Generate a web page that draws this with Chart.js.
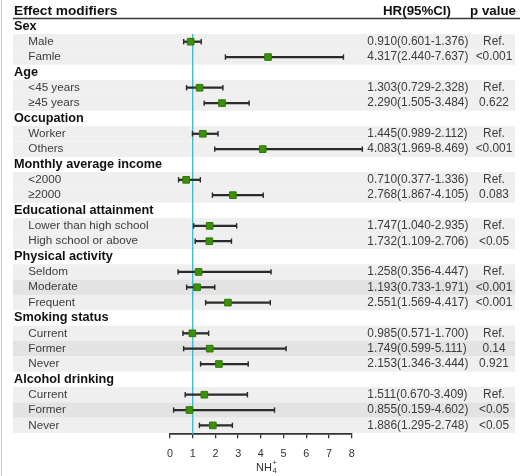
<!DOCTYPE html>
<html>
<head>
<meta charset="utf-8">
<script src="https://cdn.jsdelivr.net/npm/chart.js@4/dist/chart.umd.min.js"></script>
<style>
  html, body { margin: 0; padding: 0; background: #ffffff; }
  canvas { display: block; }
</style>
</head>
<body>
<canvas id="forest" width="520" height="476"></canvas>
<script>
// ---- data ----
const groups = ['Sex', 'Age', 'Occupation', 'Monthly average income',
  'Educational attainment', 'Physical activity', 'Smoking status', 'Alcohol drinking'];
const subgroups = [
  ['Male', 'Famle'],
  ['<45 years', '≥45 years'],
  ['Worker', 'Others'],
  ['<2000', '≥2000'],
  ['Lower than high school', 'High school or above'],
  ['Seldom', 'Moderate', 'Frequent'],
  ['Current', 'Former', 'Never'],
  ['Current', 'Former', 'Never']
];
const hr    = [0.910, 4.317, 1.303, 2.290, 1.445, 4.083, 0.710, 2.768, 1.747, 1.732,
               1.258, 1.193, 2.551, 0.985, 1.749, 2.153, 1.511, 0.855, 1.886];
const lower = [0.601, 2.440, 0.729, 1.505, 0.989, 1.969, 0.377, 1.867, 1.040, 1.109,
               0.356, 0.733, 1.569, 0.571, 0.599, 1.346, 0.670, 0.159, 1.295];
const upper = [1.376, 7.637, 2.328, 3.484, 2.112, 8.469, 1.336, 4.105, 2.935, 2.706,
               4.447, 1.971, 4.417, 1.700, 5.111, 3.444, 3.409, 4.602, 2.748];
const pValues = ['Ref.', '<0.001', 'Ref.', '0.622', 'Ref.', '<0.001', 'Ref.', '0.083',
                 'Ref.', '<0.05', 'Ref.', '<0.001', '<0.001', 'Ref.', '0.14', '0.921',
                 'Ref.', '<0.05', '<0.05'];
const xTicks = [0, 1, 2, 3, 4, 5, 6, 7, 8];
const refValue = 1;

// ---- row layout: row 0 is the column header, then group / item rows ----
const rows = [];
(function () {
  let r = 1, k = 0;
  groups.forEach((g, gi) => {
    rows.push({ kind: 'group', text: g, row: r++ });
    const subs = subgroups[gi];
    subs.forEach((s, si) => {
      rows.push({ kind: 'item', text: s, row: r++, i: k++, mid: subs.length > 2 && si === 1 });
    });
  });
})();
const items = rows.filter(d => d.kind === 'item');
const lastRow = rows[rows.length - 1].row;
const yMax = lastRow + 0.58;

const FONT = "'Liberation Sans', Arial, Helvetica, sans-serif";
Chart.defaults.font.family = FONT;

const fmt = v => v.toFixed(3);

// row bands, header rule and left frame line
const backdrop = {
  id: 'backdrop',
  beforeDraw(chart) {
    const ctx = chart.ctx, y = chart.scales.y;
    const h = y.getPixelForValue(1) - y.getPixelForValue(0);
    ctx.save();
    ctx.fillStyle = '#c9c9c9';
    ctx.fillRect(1, 0, 1, chart.height);
    items.forEach(d => {
      ctx.fillStyle = d.mid ? '#e3e3e3' : '#efefef';
      const yc = y.getPixelForValue(d.row);
      ctx.fillRect(13, yc - h / 2, 502, h);
    });
    ctx.strokeStyle = '#3a3a3a';
    ctx.lineWidth = 1.6;
    ctx.beginPath();
    ctx.moveTo(13, 18.5);
    ctx.lineTo(520, 18.5);
    ctx.stroke();
    ctx.restore();
  }
};

// end caps of the confidence intervals
const ciCaps = {
  id: 'ciCaps',
  afterDatasetsDraw(chart) {
    const ctx = chart.ctx, x = chart.scales.x, y = chart.scales.y;
    ctx.save();
    ctx.strokeStyle = '#2b2b2b';
    ctx.lineWidth = 1.4;
    items.forEach(d => {
      const yc = y.getPixelForValue(d.row);
      [lower[d.i], upper[d.i]].forEach(v => {
        const px = x.getPixelForValue(v);
        ctx.beginPath();
        ctx.moveTo(px, yc - 2.7);
        ctx.lineTo(px, yc + 2.7);
        ctx.stroke();
      });
    });
    ctx.restore();
  }
};

// table text: labels, HR (95% CI), p values, axis title
const tableText = {
  id: 'tableText',
  afterDraw(chart) {
    const ctx = chart.ctx, y = chart.scales.y;
    ctx.save();
    ctx.textBaseline = 'middle';
    const y0 = y.getPixelForValue(0);

    ctx.fillStyle = '#111111';
    ctx.font = 'bold 13.7px ' + FONT;
    ctx.textAlign = 'left';
    ctx.fillText('Effect modifiers', 14, y0);
    ctx.font = 'bold 13.3px ' + FONT;
    ctx.textAlign = 'center';
    ctx.fillText('HR(95%CI)', 417, y0);
    ctx.fillText('p value', 493, y0);

    rows.forEach(d => {
      const yc = y.getPixelForValue(d.row);
      if (d.kind === 'group') {
        ctx.fillStyle = '#111111';
        ctx.font = 'bold 12.7px ' + FONT;
        ctx.textAlign = 'left';
        ctx.fillText(d.text, 14, yc);
      } else {
        ctx.fillStyle = '#3c3c3c';
        ctx.font = '11.7px ' + FONT;
        ctx.textAlign = 'left';
        ctx.fillText(d.text, 28.3, yc);
        ctx.font = '11.9px ' + FONT;
        ctx.fillText(fmt(hr[d.i]) + '(' + fmt(lower[d.i]) + '-' + fmt(upper[d.i]) + ')', 367.3, yc);
        ctx.textAlign = 'center';
        ctx.fillText(pValues[d.i], 494, yc);
      }
    });

    // axis title NH4+
    ctx.fillStyle = '#333333';
    ctx.textAlign = 'left';
    ctx.font = '11px ' + FONT;
    const base = 'NH';
    const wBase = ctx.measureText(base).width;
    const startX = 256;
    const ty = 467.5;
    ctx.fillText(base, startX, ty);
    ctx.font = '7.5px ' + FONT;
    ctx.fillText('4', startX + wBase + 0.5, ty + 3.5);
    ctx.fillText('+', startX + wBase + 0.5, ty - 5);
    ctx.restore();
  }
};

new Chart(document.getElementById('forest'), {
  type: 'scatter',
  data: {
    datasets: [
      {
        type: 'line',
        data: [{ x: refValue, y: 1.5 }, { x: refValue, y: yMax }],
        borderColor: '#3bb7c8',
        borderWidth: 1.3,
        pointRadius: 0,
        order: 3
      },
      {
        type: 'bar',
        indexAxis: 'y',
        data: items.map(d => ({ x: [lower[d.i], upper[d.i]], y: d.row })),
        backgroundColor: '#2b2b2b',
        borderWidth: 0,
        barThickness: 1.6,
        clip: false,
        order: 2
      },
      {
        type: 'scatter',
        data: items.map(d => ({ x: hr[d.i], y: d.row })),
        pointStyle: 'rect',
        pointRadius: 4.7,
        backgroundColor: '#3d8f0c',
        borderColor: '#2e7a06',
        borderWidth: 1,
        order: 1
      }
    ]
  },
  options: {
    responsive: false,
    animation: false,
    events: [],
    layout: { padding: { left: 170, right: 168.3, top: 11, bottom: 0 } },
    plugins: { legend: { display: false }, tooltip: { enabled: false }, title: { display: false } },
    scales: {
      x: {
        type: 'linear',
        position: 'bottom',
        min: 0,
        max: 8,
        offset: false,
        afterBuildTicks: s => { s.ticks = xTicks.map(v => ({ value: v })); },
        afterFit: s => { s.height = 41.7; },
        ticks: { color: '#333333', font: { size: 10.8 }, padding: 9.5, maxRotation: 0 },
        grid: { display: true, drawOnChartArea: false, drawTicks: true, tickLength: 4,
                color: '#333333', lineWidth: 1.3, offset: false },
        border: { display: true, color: '#333333', width: 1.8 }
      },
      y: {
        type: 'linear',
        display: false,
        reverse: true,
        offset: false,
        grid: { offset: false },
        min: 0,
        max: yMax
      }
    }
  },
  plugins: [backdrop, ciCaps, tableText]
});
</script>
</body>
</html>
